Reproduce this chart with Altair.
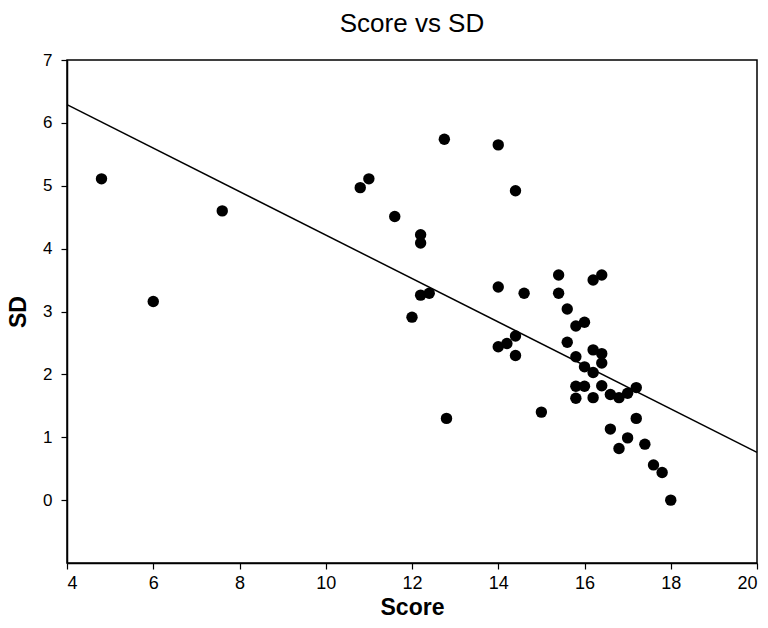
import altair as alt
import pandas as pd

# Score / SD pairs
score = [4.8, 6.0, 7.6, 10.8, 11.0, 11.6, 12.2, 12.2, 12.0, 12.2, 12.4, 12.75, 12.8,
         14.0, 14.4, 14.0, 14.6, 14.4, 14.2, 14.0, 14.4, 15.0, 15.4, 15.4, 16.2, 16.4,
         15.6, 15.8, 16.0, 15.6, 16.2, 16.4, 16.4, 15.8, 16.0, 16.2, 16.4, 15.8, 16.0,
         15.8, 16.2, 16.6, 16.8, 17.0, 17.2, 17.2, 16.6, 17.0, 16.8, 17.4, 17.6, 17.8, 18.0]
sd = [5.11, 3.16, 4.60, 4.97, 5.11, 4.51, 4.22, 4.09, 2.91, 3.26, 3.29, 5.74, 1.30,
      5.65, 4.92, 3.39, 3.29, 2.61, 2.49, 2.44, 2.30, 1.40, 3.58, 3.29, 3.50, 3.58,
      3.04, 2.77, 2.83, 2.51, 2.39, 2.33, 2.18, 2.28, 2.12, 2.03, 1.82, 1.81, 1.81,
      1.62, 1.63, 1.68, 1.63, 1.70, 1.79, 1.30, 1.13, 0.99, 0.82, 0.89, 0.56, 0.44, 0.00]

# Fitted straight line across the full Score range
fit_score = [4, 20]
fit_sd = [6.29, 0.76]

x_ticks = [4, 6, 8, 10, 12, 14, 16, 18, 20]
y_ticks = [0, 1, 2, 3, 4, 5, 6, 7]

df = pd.DataFrame({"Score": score, "SD": sd})
fit_df = pd.DataFrame({"Score": fit_score, "SD": fit_sd})

FONT = "Liberation Sans"

x_enc = alt.X("Score:Q", scale=alt.Scale(domain=[4, 20], nice=False, zero=False),
              axis=alt.Axis(values=x_ticks, title="Score", grid=False,
                            labelFontSize=18, labelPadding=5, titlePadding=4))
y_enc = alt.Y("SD:Q", scale=alt.Scale(domain=[-1, 7], nice=False, zero=False),
              axis=alt.Axis(values=y_ticks, title="SD", grid=False,
                            labelFontSize=17, labelPadding=9, titlePadding=12))

points = alt.Chart(df).mark_circle(size=130, color="black", opacity=1).encode(x=x_enc, y=y_enc)

fit = alt.Chart(fit_df).mark_line(color="black", strokeWidth=1.5).encode(x=x_enc, y=y_enc)

chart = (fit + points).properties(
    width=690,
    height=503,
    title=alt.TitleParams("Score vs SD", font=FONT, fontSize=26, fontWeight="normal",
                          color="black", anchor="middle", offset=14),
    padding={"left": 67, "top": 60, "right": 11, "bottom": 65},
    autosize=alt.AutoSizeParams(type="none"),
).configure_view(
    stroke="black", strokeWidth=1.5
).configure_axis(
    domainColor="black", domainWidth=1.5, tickColor="black", tickSize=6, tickWidth=1.2,
    labelFont=FONT, labelColor="black",
    titleFont=FONT, titleFontSize=23, titleFontWeight="bold", titleColor="black",
)

chart.save("out.html", embed_options={"renderer": "svg", "actions": False})
